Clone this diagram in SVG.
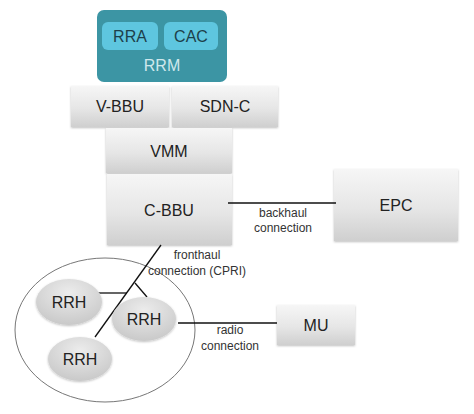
<svg xmlns="http://www.w3.org/2000/svg" width="474" height="414" viewBox="0 0 474 414">
<defs>
<linearGradient id="box" x1="0" y1="0" x2="0" y2="1">
<stop offset="0" stop-color="#f6f6f6"/>
<stop offset="0.55" stop-color="#e6e6e6"/>
<stop offset="1" stop-color="#cfcfcf"/>
</linearGradient>
<radialGradient id="oval" cx="0.5" cy="0.3" r="0.7">
<stop offset="0" stop-color="#ececec"/>
<stop offset="1" stop-color="#c9c9c9"/>
</radialGradient>
<filter id="sh" x="-10%" y="-10%" width="120%" height="130%">
<feDropShadow dx="0" dy="1" stdDeviation="1" flood-color="#000" flood-opacity="0.25"/>
</filter>
</defs>
<style>
text{font-family:"Liberation Sans",Arial,sans-serif;fill:#222;text-anchor:middle}
.n{font-size:16px}
.s{font-size:12px;fill:#333}
.box{fill:url(#box);filter:url(#sh)}
.oval{fill:url(#oval);filter:url(#sh)}
.ln{stroke:#111;stroke-width:1.3;fill:none}
</style>
<rect width="474" height="414" fill="#fff"/>
<g id="RRM">
<rect x="97" y="10" width="130" height="72" rx="7" fill="#3c95a4"/>
<text x="162" y="71" class="n" style="fill:#cfe8ec">RRM</text>
</g>
<g id="RRA">
<rect x="102" y="22" width="56" height="28" rx="6" fill="#5ec6df"/>
<text x="130" y="42" class="n" style="fill:#1d3f4a">RRA</text>
</g>
<g id="CAC">
<rect x="164" y="22" width="54" height="28" rx="6" fill="#5ec6df"/>
<text x="191" y="42" class="n" style="fill:#1d3f4a">CAC</text>
</g>
<g id="V-BBU">
<rect class="box" x="71" y="86" width="98" height="41"/>
<text x="120" y="112" class="n">V-BBU</text>
</g>
<g id="SDN-C">
<rect class="box" x="172" y="86" width="106" height="41"/>
<text x="225" y="112" class="n">SDN-C</text>
</g>
<g id="VMM">
<rect class="box" x="106" y="128" width="126" height="45"/>
<text x="169" y="157" class="n">VMM</text>
</g>
<g id="C-BBU">
<rect class="box" x="107" y="174" width="125" height="71"/>
<text x="169" y="216" class="n">C-BBU</text>
</g>
<g id="EPC">
<rect class="box" x="334" y="169" width="124" height="72"/>
<text x="396" y="211" class="n">EPC</text>
</g>
<g id="cluster">
<ellipse cx="105" cy="330" rx="90" ry="72" fill="none" stroke="#777" stroke-width="1"/>
</g>
<g id="connectors">
<line class="ln" x1="228" y1="203" x2="336" y2="203"/>
<line class="ln" x1="161" y1="245" x2="95" y2="337"/>
<line class="ln" x1="97" y1="293" x2="127" y2="293"/>
<line class="ln" x1="135" y1="283" x2="147" y2="297"/>
<line class="ln" x1="178" y1="323" x2="277" y2="323"/>
<text x="283" y="217" class="s">backhaul</text>
<text x="283" y="232" class="s">connection</text>
<text x="197" y="259" class="s">fronthaul</text>
<text x="197" y="275" class="s">connection (CPRI)</text>
<text x="230" y="334" class="s">radio</text>
<text x="230" y="350" class="s">connection</text>
</g>
<g id="RRH1">
<ellipse class="oval" cx="69" cy="302" rx="33" ry="23"/>
<text x="69" y="308" class="n">RRH</text>
</g>
<g id="RRH2">
<ellipse class="oval" cx="144" cy="319" rx="32" ry="22"/>
<text x="144" y="325" class="n">RRH</text>
</g>
<g id="RRH3">
<ellipse class="oval" cx="80" cy="359" rx="32" ry="22"/>
<text x="80" y="365" class="n">RRH</text>
</g>
<g id="MU">
<rect class="box" x="277" y="305" width="78" height="40"/>
<text x="316" y="331" class="n">MU</text>
</g>
</svg>
